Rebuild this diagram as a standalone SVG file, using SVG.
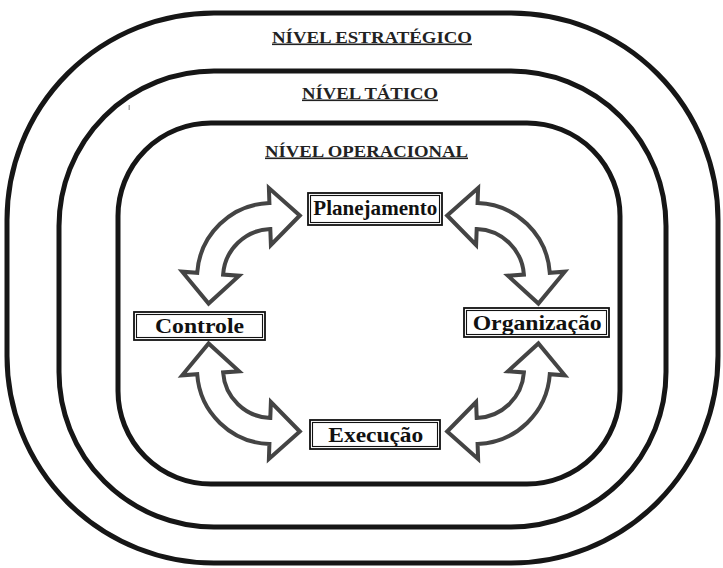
<svg xmlns="http://www.w3.org/2000/svg" xmlns:xlink="http://www.w3.org/1999/xlink" width="723" height="568" viewBox="0 0 723 568">
  <style>
    .ring { fill: none; stroke: #161616; stroke-width: 5; }
    .lvl { font-family: "Liberation Serif", "Times New Roman", serif; font-weight: bold; font-size: 16px; fill: #222; text-decoration: underline; }
    .box { fill: #fff; stroke: #111; stroke-width: 1.8; }
    .box-in { fill: none; stroke: #111; stroke-width: 1.1; }
    .lbl { font-family: "Liberation Serif", "Times New Roman", serif; font-weight: bold; font-size: 21px; fill: #111; }
    .arrow { fill: #fff; stroke: #444; stroke-width: 4; stroke-linejoin: miter; stroke-miterlimit: 4; }
  </style>
  <defs>
    <!-- curved double-headed block arrow (upper-left quadrant); the others are mirrored copies -->
    <path id="curved-arrow" class="arrow" d="M299.8 215.5 L268.9 188.1 L269.4 203.0 A75 75 0 0 0 197.2 272.8 L182.2 271.7 L208.6 303.6 L239.1 275.7 L223.1 274.6 A49 49 0 0 1 270.3 229.0 L270.9 245.0 Z"/>
  </defs>

  <rect width="723" height="568" fill="#fff"/>

  <!-- management levels as nested rounded frames -->
  <g id="level-strategic">
    <rect class="ring" x="7" y="13" width="711" height="550" rx="207" ry="207"/>
    <text class="lvl" x="372" y="42.5" text-anchor="middle" textLength="200" lengthAdjust="spacingAndGlyphs">NÍVEL ESTRATÉGICO</text>
  </g>
  <g id="level-tactical">
    <rect class="ring" x="59" y="71" width="607" height="456" rx="155" ry="155"/>
    <text class="lvl" x="370" y="98.5" text-anchor="middle" textLength="136" lengthAdjust="spacingAndGlyphs">NÍVEL TÁTICO</text>
  </g>
  <g id="level-operational">
    <rect class="ring" x="118" y="123" width="502" height="361" rx="93" ry="93"/>
    <text class="lvl" x="366.5" y="156.5" text-anchor="middle" textLength="203" lengthAdjust="spacingAndGlyphs">NÍVEL OPERACIONAL</text>
  </g>
  <rect x="128.5" y="105" width="1.5" height="5" fill="#aaa"/>

  <!-- cycle connectors -->
  <g id="connectors">
    <use xlink:href="#curved-arrow" href="#curved-arrow"/>
    <use xlink:href="#curved-arrow" href="#curved-arrow" transform="translate(747,0) scale(-1,1)"/>
    <use xlink:href="#curved-arrow" href="#curved-arrow" transform="translate(0,647) scale(1,-1)"/>
    <use xlink:href="#curved-arrow" href="#curved-arrow" transform="translate(747,647) scale(-1,-1)"/>
  </g>

  <!-- cycle stages -->
  <g id="planejamento">
    <rect class="box" x="308" y="193" width="134" height="32"/>
    <rect class="box-in" x="310.5" y="195.5" width="129" height="27"/>
    <text class="lbl" x="375.3" y="214.5" text-anchor="middle" textLength="124" lengthAdjust="spacingAndGlyphs">Planejamento</text>
  </g>
  <g id="organizacao">
    <rect class="box" x="464" y="308" width="145" height="29"/>
    <rect class="box-in" x="466.5" y="310.5" width="140" height="24"/>
    <text class="lbl" x="537.2" y="330" text-anchor="middle" textLength="129" lengthAdjust="spacingAndGlyphs">Organização</text>
  </g>
  <g id="execucao">
    <rect class="box" x="310" y="420" width="130" height="29"/>
    <rect class="box-in" x="312.5" y="422.5" width="125" height="24"/>
    <text class="lbl" x="375.8" y="441.5" text-anchor="middle" textLength="95" lengthAdjust="spacingAndGlyphs">Execução</text>
  </g>
  <g id="controle">
    <rect class="box" x="134" y="312" width="131" height="28"/>
    <rect class="box-in" x="136.5" y="314.5" width="126" height="23"/>
    <text class="lbl" x="199.5" y="333" text-anchor="middle" textLength="89" lengthAdjust="spacingAndGlyphs">Controle</text>
  </g>
</svg>
